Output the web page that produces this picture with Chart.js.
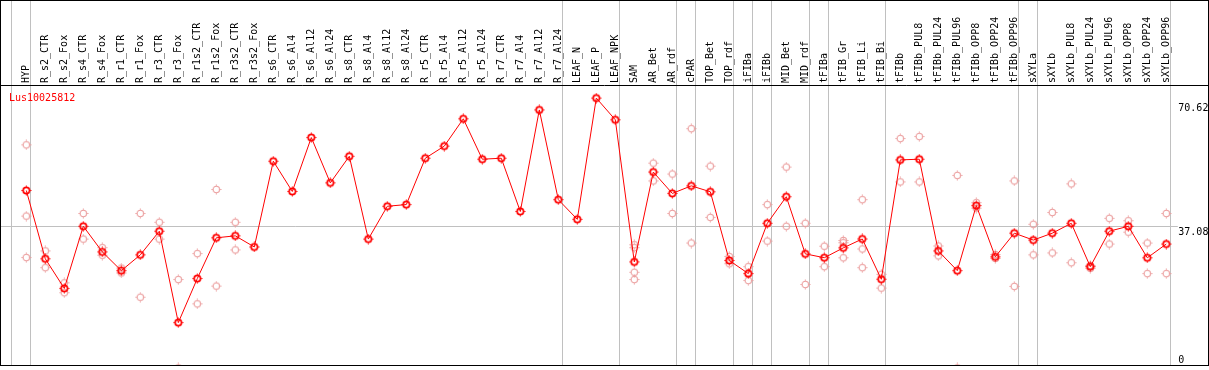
<!DOCTYPE html>
<html>
<head>
<meta charset="utf-8">
<script src="https://cdn.jsdelivr.net/npm/chart.js@4/dist/chart.umd.min.js"></script>
<style>
  html, body { margin: 0; padding: 0; background: #fff; }
  #wrap { width: 1209px; height: 370px; }
</style>
</head>
<body>
<div id="wrap"><canvas id="chart" width="1209" height="370"></canvas></div>
<script>
// ── data ───────────────────────────────────────────────────────────────
const seriesName = 'Lus10025812';

const categories = [
  'HYP', 'R_s2_CTR', 'R_s2_Fox', 'R_s4_CTR', 'R_s4_Fox', 'R_r1_CTR', 'R_r1_Fox',
  'R_r3_CTR', 'R_r3_Fox', 'R_r1s2_CTR', 'R_r1s2_Fox', 'R_r3s2_CTR', 'R_r3s2_Fox',
  'R_s6_CTR', 'R_s6_Al4', 'R_s6_Al12', 'R_s6_Al24', 'R_s8_CTR', 'R_s8_Al4',
  'R_s8_Al12', 'R_s8_Al24', 'R_r5_CTR', 'R_r5_Al4', 'R_r5_Al12', 'R_r5_Al24',
  'R_r7_CTR', 'R_r7_Al4', 'R_r7_Al12', 'R_r7_Al24', 'LEAF_N', 'LEAF_P', 'LEAF_NPK',
  'SAM', 'AR_Bet', 'AR_rdf', 'cPAR', 'TOP_Bet', 'TOP_rdf', 'iFIBa', 'iFIBb',
  'MID_Bet', 'MID_rdf', 'tFIBa', 'tFIB_Gr', 'tFIB_Li', 'tFIB_Bi', 'tFIBb',
  'tFIBb_PUL8', 'tFIBb_PUL24', 'tFIBb_PUL96', 'tFIBb_OPP8', 'tFIBb_OPP24', 'tFIBb_OPP96',
  'sXYLa', 'sXYLb', 'sXYLb_PUL8', 'sXYLb_PUL24', 'sXYLb_PUL96', 'sXYLb_OPP8',
  'sXYLb_OPP24', 'sXYLb_OPP96'
];

// mean expression per sample (red line)
const meanValues = [
  46.44, 28.56, 20.82, 37.07, 30.37, 25.46, 29.59, 35.78, 11.87, 23.40,
  34.06, 34.57, 31.66, 54.10, 46.18, 60.29, 48.43, 55.39, 33.72, 42.31,
  42.75, 54.88, 58.05, 65.20, 54.62, 54.88, 40.94, 67.52, 44.04, 38.88,
  70.62, 64.94, 27.74, 51.26, 45.67, 47.65, 46.10, 28.12, 24.69, 37.85,
  44.81, 29.85, 28.84, 31.42, 33.75, 23.22, 54.44, 54.62, 30.62, 25.46,
  42.49, 29.08, 35.27, 33.46, 35.27, 37.85, 26.50, 35.78, 37.07, 28.82,
  32.43
];

// individual replicates (faint circles)
const rep1 = [
  58.38, 30.62, 22.27, 40.43, 31.48, 26.14, 40.43, 38.11, 23.14, 29.93,
  46.70, 38.11, null, null, null, null, null, null, null, null,
  null, null, null, null, null, null, null, null, null, null,
  null, null, 32.25, 53.59, 50.75, 62.62, 52.81, 29.15, 26.50, 42.75,
  52.55, 37.85, 31.86, 33.36, 44.04, 24.51, 60.04, 60.55, 31.91, 50.39,
  43.27, 29.67, 48.94, 37.59, 40.69, 48.17, 26.83, 39.14, 38.52, 32.69,
  40.43
];
const rep2 = [
  39.73, 26.24, 19.69, 33.72, 29.49, 24.85, 18.50, 33.72, 0, 16.77,
  21.41, 30.88, null, null, null, null, null, null, null, null,
  null, null, null, null, null, null, null, null, null, null,
  null, null, 31.48, 48.94, 40.43, 32.69, 39.40, 27.27, 22.88, 33.20,
  37.07, 21.85, 26.50, 32.77, 31.14, 20.90, 48.68, 48.68, 29.33, 0,
  41.80, 28.64, 21.34, 29.59, 30.11, 27.53, 26.06, 32.43, 35.53, 24.69,
  24.69
];
const rep3 = [
  28.90, null, null, null, null, null, null, null, null, null,
  null, null, null, null, null, null, null, null, null, null,
  null, null, null, null, null, null, null, null, null, null,
  null, null, 25.03, null, null, null, null, null, null, null,
  null, null, null, 28.82, 26.24, null, null, null, null, null,
  null, null, null, null, null, null, null, null, null, null,
  null
];
const rep4 = [
  null, null, null, null, null, null, null, null, null, null,
  null, null, null, null, null, null, null, null, null, null,
  null, null, null, null, null, null, null, null, null, null,
  null, null, 23.14, null, null, null, null, null, null, null,
  null, null, null, null, null, null, null, null, null, null,
  null, null, null, null, null, null, null, null, null, null,
  null
];

// value labels on the right, and the reference line
const yTickLabels = ['70.62', '37.08', '0'];
const meanLine = 37.08;

// sample groups end after these category indices (-1 = before the first)
const groupEnds = [-1, 0, 28, 31, 34, 35, 37, 38, 39, 41, 42, 45, 52, 53, 60];

// ── styling helpers ────────────────────────────────────────────────────
const MONO = "'DejaVu Sans Mono', 'Liberation Mono', monospace";
const RED = '#ff0000';
const FAINT = '#eb9c9c';

// small circle with four stubs, like the original plot symbol
function makeMarker(color, lw) {
  const c = document.createElement('canvas');
  c.width = 11;
  c.height = 11;
  const g = c.getContext('2d');
  g.strokeStyle = color;
  g.lineWidth = lw;
  g.beginPath();
  g.arc(5.5, 5.5, 3.2, 0, Math.PI * 2);
  g.stroke();
  g.lineWidth = 1;
  g.beginPath();
  g.moveTo(5.5, 0.5); g.lineTo(5.5, 1.8);
  g.moveTo(5.5, 9.2); g.lineTo(5.5, 10.5);
  g.moveTo(0.5, 5.5); g.lineTo(1.8, 5.5);
  g.moveTo(9.2, 5.5); g.lineTo(10.5, 5.5);
  g.stroke();
  return c;
}

const mainMarker = makeMarker(RED, 1.7);
const faintMarker = makeMarker(FAINT, 1.1);

function repDataset(data) {
  return {
    data,
    showLine: false,
    pointStyle: faintMarker,
    pointRadius: 4,
    borderColor: FAINT,
    backgroundColor: FAINT
  };
}

// grid, frame and texts around the plot
const framePlugin = {
  id: 'frame',
  beforeDatasetsDraw(chart) {
    const { ctx, chartArea, scales: { x, y } } = chart;
    const x0 = x.getPixelForValue(0);
    const step = x.getPixelForValue(1) - x0;
    ctx.save();
    ctx.strokeStyle = '#c0c0c0';
    ctx.lineWidth = 1;
    ctx.beginPath();
    groupEnds.forEach(i => {
      const px = Math.round(x0 + i * step + 4) + 0.5;
      ctx.moveTo(px, 0);
      ctx.lineTo(px, chartArea.bottom);
    });
    const gy = Math.round(y.getPixelForValue(meanLine)) + 0.5;
    ctx.moveTo(1, gy);
    ctx.lineTo(chartArea.right + 2, gy);
    ctx.stroke();
    ctx.restore();
  },
  afterDraw(chart) {
    const { ctx, chartArea, width, scales: { y } } = chart;
    ctx.save();
    ctx.strokeStyle = '#000';
    ctx.lineWidth = 1;
    ctx.strokeRect(0.5, 0.5, width - 1, chartArea.bottom);
    ctx.beginPath();
    ctx.moveTo(0, chartArea.top + 0.5);
    ctx.lineTo(width, chartArea.top + 0.5);
    ctx.stroke();

    ctx.font = '10px ' + MONO;
    ctx.textBaseline = 'top';
    ctx.textAlign = 'left';
    ctx.fillStyle = '#000';
    yTickLabels.forEach(t => {
      const py = y.getPixelForValue(Number(t)) + 1;
      const ty = Math.min(Math.max(py, chartArea.top + 18), chartArea.bottom - 10);
      ctx.fillText(t, chartArea.right + 2.5, ty);
    });

    ctx.fillStyle = RED;
    ctx.fillText(seriesName, 9, chartArea.top + 8);
    ctx.restore();
  }
};

// ── chart ──────────────────────────────────────────────────────────────
new Chart(document.getElementById('chart'), {
  type: 'line',
  data: {
    labels: categories,
    datasets: [
      {
        data: meanValues,
        borderColor: RED,
        backgroundColor: RED,
        borderWidth: 1,
        tension: 0,
        pointStyle: mainMarker,
        pointRadius: 4
      },
      repDataset(rep1),
      repDataset(rep2),
      repDataset(rep3),
      repDataset(rep4)
    ]
  },
  options: {
    responsive: false,
    animation: false,
    devicePixelRatio: 1,
    layout: { padding: { left: 16.8, right: 33.2, top: 0, bottom: 1 } },
    plugins: { legend: { display: false }, tooltip: { enabled: false } },
    scales: {
      x: {
        type: 'category',
        position: 'top',
        offset: true,
        grid: { display: false, drawTicks: false },
        border: { display: false },
        ticks: {
          autoSkip: false,
          minRotation: 90,
          maxRotation: 90,
          padding: 2,
          labelOffset: 12,
          color: '#000',
          font: { family: MONO, size: 10 }
        },
        afterFit(scale) { scale.height = 85; }
      },
      y: {
        display: false,
        min: 0.77,
        max: 74.04
      }
    }
  },
  plugins: [framePlugin]
});
</script>
</body>
</html>
